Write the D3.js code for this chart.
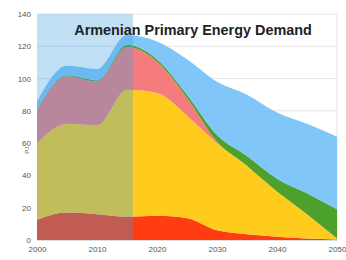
<!DOCTYPE html>
<html>
<head>
<meta charset="utf-8">
<script src="https://cdn.jsdelivr.net/npm/d3@7/dist/d3.min.js"></script>
<style>
  body { margin: 0; background: #fff; }
  svg { display: block; font-family: "Liberation Sans", Arial, sans-serif; }
</style>
</head>
<body>
<script>
// values in PJ (layer thickness, bottom to top)
const years = [2000, 2005, 2010, 2015, 2020, 2025, 2030, 2035, 2040, 2045, 2050];
const hydro      = [12.5, 17, 16, 14.5, 15, 13.5, 6, 3.5, 2, 1, 0.3];
const gas        = [47.5, 55, 55, 78.5, 76, 63.5, 54, 42.5, 28, 15, 0.7];
const nuclear    = [20.5, 29.5, 27.2, 26.5, 19.5, 11, 1, 0, 0, 0, 0];
const renewables = [0.5, 0.5, 0.8, 1.5, 1.5, 2, 4, 6, 8, 13, 18];
const savings    = [5, 6, 7, 6, 11, 22, 33, 38, 41, 43, 45];

const keys = ['hydro', 'gas', 'nuclear', 'renewables', 'savings'];
const colors = ['#ff3d10', '#ffcc1e', '#f47c7c', '#4ca02c', '#80c6f8'];
const yTicks = [0, 20, 40, 60, 80, 100, 120, 140];
const xTicks = [2000, 2010, 2020, 2030, 2040, 2050];
const historyEnd = 2016;

const data = years.map((y, i) => ({
  year: y, hydro: hydro[i], gas: gas[i], nuclear: nuclear[i],
  renewables: renewables[i], savings: savings[i]
}));

const W = 346, H = 260;
const margin = {top: 14, right: 9, bottom: 20, left: 37};

const svg = d3.select('body').append('svg')
  .attr('width', W).attr('height', H);

const x = d3.scaleLinear().domain([2000, 2050]).range([margin.left, W - margin.right]);
const y = d3.scaleLinear().domain([0, 140]).range([H - margin.bottom, margin.top]);

// grid
svg.append('g').selectAll('line')
  .data(yTicks).enter().append('line')
  .attr('x1', x(2000)).attr('x2', x(2050))
  .attr('y1', d => y(d)).attr('y2', d => y(d))
  .attr('stroke', '#e6e6e6').attr('stroke-width', 1);
svg.append('line')
  .attr('x1', x(2050)).attr('x2', x(2050))
  .attr('y1', y(140)).attr('y2', y(0))
  .attr('stroke', '#e6e6e6');

const stack = d3.stack().keys(keys);
const series = stack(data);

const area = d3.area()
  .x(d => x(d.data.year))
  .y0(d => y(d[0]))
  .y1(d => y(d[1]))
  .curve(d3.curveMonotoneX);

svg.append('g').selectAll('path')
  .data(series).enter().append('path')
  .attr('d', area)
  .attr('fill', (d, i) => colors[i]);

// historic period shading
svg.append('rect')
  .attr('x', x(2000)).attr('y', y(140))
  .attr('width', x(historyEnd) - x(2000))
  .attr('height', y(0) - y(140))
  .attr('fill', '#3f9fe0')
  .attr('opacity', 0.32);

// axes
const yAxis = d3.axisLeft(y).tickValues(yTicks).tickSize(0).tickPadding(6);
const gy = svg.append('g')
  .attr('transform', `translate(${margin.left},0)`)
  .call(yAxis);
gy.select('.domain').remove();
gy.selectAll('text').attr('fill', '#555').attr('font-size', 8);

const xAxis = d3.axisBottom(x).tickValues(xTicks).tickFormat(d3.format('d')).tickSize(0).tickPadding(6);
const gx = svg.append('g')
  .attr('transform', `translate(0,${y(0)})`)
  .call(xAxis);
gx.select('.domain').attr('stroke', '#ddd');
gx.selectAll('text').attr('fill', '#555').attr('font-size', 8);

svg.append('text')
  .attr('transform', `translate(29,${y(60) + 7}) rotate(-90)`)
  .attr('text-anchor', 'middle')
  .attr('font-size', 6)
  .attr('fill', '#555')
  .text('PJ');

svg.append('text')
  .attr('x', 193).attr('y', 35)
  .attr('text-anchor', 'middle')
  .attr('font-size', 14.4)
  .attr('font-weight', 'bold')
  .attr('fill', '#222')
  .text('Armenian Primary Energy Demand');
</script>
</body>
</html>
